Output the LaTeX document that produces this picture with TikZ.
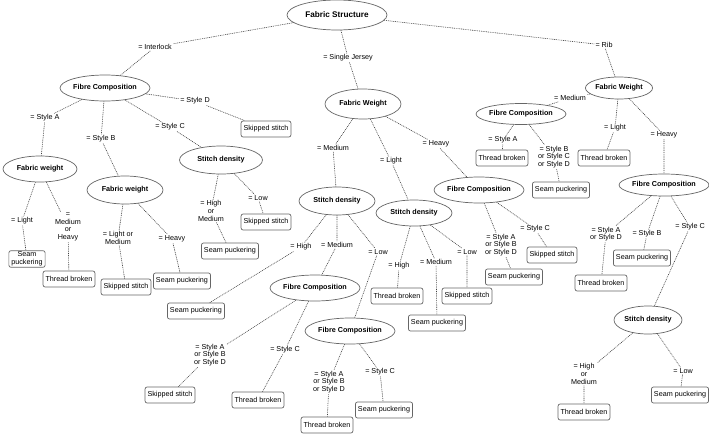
\documentclass[tikz,border=0pt]{standalone}
\usepackage{fontspec}
\setmainfont{Liberation Sans}
\usepackage{tikz}
\usetikzlibrary{positioning,shapes.geometric}
\tikzset{
	topic/.style = {ellipse, draw=black!60, fill=white, line width=0.7pt, minimum width=76pt, minimum height=26pt, inner sep=0, font=\fontsize{7.2}{8}\selectfont\bfseries},
	roottopic/.style = {topic, minimum width=100pt, minimum height=30pt, font=\fontsize{8.2}{9}\selectfont\bfseries},
	result/.style = {draw=black!60, rounded corners=2pt, fill=white, line width=0.7pt, inner xsep=2.5pt, inner ysep=1pt, minimum height=16pt, align=center, font=\fontsize{7.2}{8}\selectfont},
	cond/.style = {inner sep=1pt, align=center, font=\fontsize{7.2}{7.7}\selectfont},
	link/.style = {draw=black!75, line width=0.6pt, dash pattern=on 0.9pt off 0.9pt}
}

\begin{document}
\begin{tikzpicture}[x=1pt, y=-1pt]
	\useasboundingbox (0,0) rectangle (709,434);
	
	% first level
	\node [roottopic] (1) at (337,15) {Fabric Structure};
	\node [cond] (e2) at (155,47) {= Interlock};
	\node [cond] (e3) at (348,58) {= Single Jersey};
	\node [cond] (e4) at (604,45) {= Rib};
	\node [topic] (2) at (105,88) {Fibre Composition};
	\node [topic, minimum height=30pt] (3) at (363,104) {Fabric Weight};
	\node [topic, minimum width=66pt, minimum height=22pt] (4) at (619,88) {Fabric Weight};
	
	% interlock
	\node [cond] (e5) at (45,118) {= Style A};
	\node [cond] (e6) at (101,139) {= Style B};
	\node [cond] (e7) at (170,127) {= Style C};
	\node [cond] (e8) at (195,101) {= Style D};
	\node [topic, minimum width=74pt] (5) at (40,169) {Fabric weight};
	\node [topic, minimum height=28pt] (6) at (125,190) {Fabric weight};
	\node [topic, minimum width=83pt, minimum height=28pt] (7) at (221,160) {Stitch density};
	\node [result] (8) at (266,129) {Skipped stitch};
	\node [cond] (e9) at (22,221) {= Light};
	\node [cond] (e10) at (68,227) {=\\Medium\\or\\Heavy};
	\node [result] (9) at (27,259) {Seam\\puckering};
	\node [result] (10) at (69,279) {Thread broken};
	\node [cond] (e11) at (118,238) {= Light or\\Medium};
	\node [cond] (e12) at (172,239) {= Heavy};
	\node [result] (11) at (126,287) {Skipped stitch};
	\node [result] (12) at (182,281) {Seam puckering};
	\node [cond] (e13) at (211,211) {= High\\or\\Medium};
	\node [cond] (e14) at (258,198) {= Low};
	\node [result] (13) at (230,251) {Seam puckering};
	\node [result] (14) at (266,222) {Skipped stitch};
	
	% single jersey
	\node [cond] (e15) at (333,148) {= Medium};
	\node [cond] (e16) at (391,161) {= Light};
	\node [cond] (e17) at (436,144) {= Heavy};
	\node [topic, minimum height=28pt] (15) at (337,201) {Stitch density};
	\node [topic] (16) at (414,213) {Stitch density};
	\node [topic] (17) at (479,190) {Fibre Composition};
	\node [cond] (e18) at (301,247) {= High};
	\node [cond] (e19) at (337,245) {= Medium};
	\node [cond] (e20) at (378,252) {= Low};
	\node [result] (18) at (196,311) {Seam puckering};
	\node [topic] (19) at (315,288) {Fibre Composition};
	\node [topic] (20) at (350,331) {Fibre Composition};
	\node [cond] (e21) at (210,355) {= Style A\\or Style B\\or Style D};
	\node [cond] (e22) at (285,350) {= Style C};
	\node [result] (21) at (170,395) {Skipped stitch};
	\node [result] (22) at (258,400) {Thread broken};
	\node [cond] (e23) at (329,382) {= Style A\\or Style B\\or Style D};
	\node [cond] (e24) at (380,372) {= Style C};
	\node [result] (23) at (327,425) {Thread broken};
	\node [result] (24) at (384,410) {Seam puckering};
	\node [cond] (e25) at (399,266) {= High};
	\node [cond] (e26) at (436,262) {= Medium};
	\node [cond] (e27) at (467,252) {= Low};
	\node [result] (25) at (397,296) {Thread broken};
	\node [result] (26) at (437,323) {Seam puckering};
	\node [result] (27) at (467,296) {Skipped stitch};
	\node [cond] (e28) at (501,245) {= Style A\\or Style B\\or Style D};
	\node [cond] (e29) at (535,229) {= Style C};
	\node [result] (28) at (514,277) {Seam puckering};
	\node [result] (29) at (552,255) {Skipped stitch};
	
	% rib
	\node [cond] (e30) at (570,98) {= Medium};
	\node [cond] (e31) at (615,128) {= Light};
	\node [cond] (e32) at (664,135) {= Heavy};
	\node [topic, minimum height=21pt] (30) at (521,114) {Fibre Composition};
	\node [result] (31) at (604,158) {Thread broken};
	\node [topic, minimum height=22pt] (32) at (664,185) {Fibre Composition};
	\node [cond] (e33) at (503,140) {= Style A};
	\node [cond] (e34) at (554,157) {= Style B\\or Style C\\or Style D};
	\node [result] (33) at (502,158) {Thread broken};
	\node [result] (34) at (561,190) {Seam puckering};
	\node [cond] (e35) at (606,234) {= Style A\\or Style D};
	\node [cond] (e36) at (647,234) {= Style B};
	\node [cond] (e37) at (690,227) {= Style C};
	\node [result] (35) at (601,283) {Thread broken};
	\node [result] (36) at (642,258) {Seam puckering};
	\node [topic, minimum width=68pt, minimum height=28pt] (37) at (648,320) {Stitch density};
	\node [cond] (e38) at (584,374) {= High\\or\\Medium};
	\node [cond] (e39) at (683,371) {= Low};
	\node [result] (38) at (584,412) {Thread broken};
	\node [result] (39) at (680,395) {Seam puckering};
	
	\draw [link] (1) -- (e2) -- (2);
	\draw [link] (1) -- (e3) -- (3);
	\draw [link] (1) -- (e4) -- (4);
	\draw [link] (2) -- (e5) -- (5);
	\draw [link] (2) -- (e6) -- (6);
	\draw [link] (2) -- (e7) -- (7);
	\draw [link] (2) -- (e8) -- (8);
	\draw [link] (5) -- (e9) -- (9);
	\draw [link] (5) -- (e10) -- (10);
	\draw [link] (6) -- (e11) -- (11);
	\draw [link] (6) -- (e12) -- (12);
	\draw [link] (7) -- (e13) -- (13);
	\draw [link] (7) -- (e14) -- (14);
	\draw [link] (3) -- (e15) -- (15);
	\draw [link] (3) -- (e16) -- (16);
	\draw [link] (3) -- (e17) -- (17);
	\draw [link] (15) -- (e18) -- (18);
	\draw [link] (15) -- (e19) -- (19);
	\draw [link] (15) -- (e20) -- (20);
	\draw [link] (19) -- (e21) -- (21);
	\draw [link] (19) -- (e22) -- (22);
	\draw [link] (20) -- (e23) -- (23);
	\draw [link] (20) -- (e24) -- (24);
	\draw [link] (16) -- (e25) -- (25);
	\draw [link] (16) -- (e26) -- (26);
	\draw [link] (16) -- (e27) -- (27);
	\draw [link] (17) -- (e28) -- (28);
	\draw [link] (17) -- (e29) -- (29);
	\draw [link] (4) -- (e30) -- (30);
	\draw [link] (4) -- (e31) -- (31);
	\draw [link] (4) -- (e32) -- (32);
	\draw [link] (30) -- (e33) -- (33);
	\draw [link] (30) -- (e34) -- (34);
	\draw [link] (32) -- (e35) -- (35);
	\draw [link] (32) -- (e36) -- (36);
	\draw [link] (32) -- (e37) -- (37);
	\draw [link] (37) -- (e38) -- (38);
	\draw [link] (37) -- (e39) -- (39);
\end{tikzpicture}
\end{document}
